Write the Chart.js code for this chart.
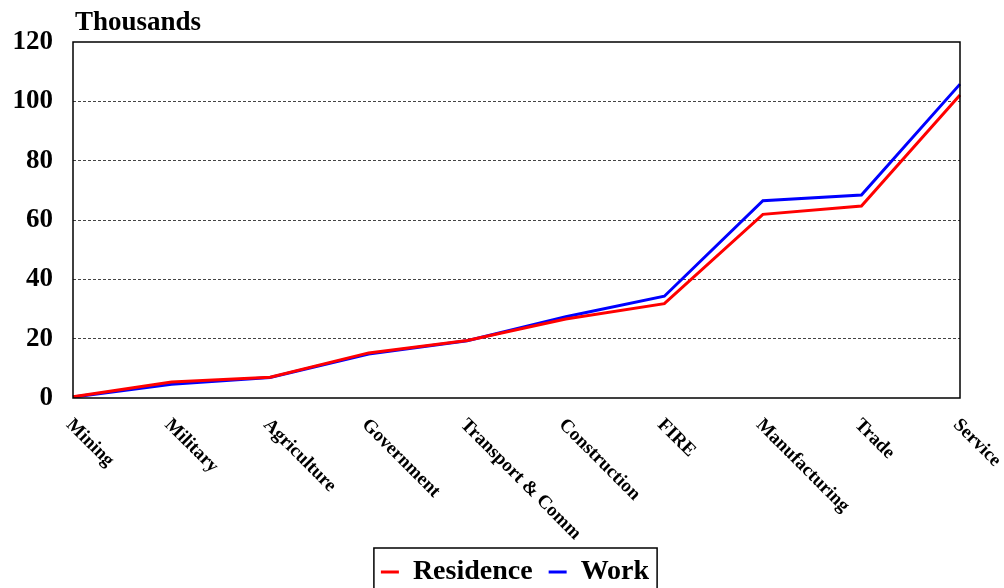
<!DOCTYPE html>
<html lang="en">
<head>
    <meta charset="UTF-8">
    <title>Residence vs Work by Industry</title>
    <script src="https://cdn.jsdelivr.net/npm/chart.js"></script>
    <style>
        html, body {
            margin: 0;
            padding: 0;
            background: #ffffff;
        }

        .chart-container {
            width: 1004px;
            height: 588px;
        }
    </style>
</head>
<body>
    <div class="chart-container">
        <canvas id="industryChart"></canvas>
    </div>

    <script>
        // Categories along the x axis
        const industries = ['Mining', 'Military', 'Agriculture', 'Government', 'Transport & Comm',
            'Construction', 'FIRE', 'Manufacturing', 'Trade', 'Service'];

        // Values in thousands
        const residence = [0.4, 5.4, 7.0, 15.2, 19.4, 26.6, 31.8, 61.9, 64.7, 102.1];
        const work = [0.3, 4.6, 6.9, 14.8, 19.3, 27.4, 34.3, 66.5, 68.4, 105.8];

        const yTicks = [0, 20, 40, 60, 80, 100, 120];

        const SERIF = '"Liberation Serif", "Times New Roman", serif';

        // draws the rotated category names, the frame, the unit label and the legend box
        const decorations = {
            id: 'decorations',
            afterLayout(chart) {
                // legend sits under the plot area rather than the whole canvas
                const lg = chart.legend;
                lg.left += 35;
                lg.right += 35;
                lg.top += 8;
                lg.bottom += 8;
            },
            afterDraw(chart) {
                const ctx = chart.ctx;
                const area = chart.chartArea;
                const xScale = chart.scales.x;

                ctx.save();
                ctx.setLineDash([]);
                ctx.strokeStyle = '#000000';
                ctx.lineWidth = 1.5;
                ctx.strokeRect(area.left, area.top, area.right - area.left, area.bottom - area.top);

                ctx.fillStyle = '#000000';
                ctx.font = 'bold 27px ' + SERIF;
                ctx.textAlign = 'left';
                ctx.textBaseline = 'alphabetic';
                ctx.fillText('Thousands', 75, 30);

                ctx.font = 'bold 19px ' + SERIF;
                ctx.textBaseline = 'middle';
                industries.forEach((name, i) => {
                    const x = xScale.getPixelForTick(i);
                    ctx.save();
                    ctx.translate(x - 4, area.bottom + 24);
                    ctx.rotate(Math.PI / 4);
                    ctx.fillText(name, 0, 0);
                    ctx.restore();
                });

                const boxes = chart.legend.legendHitBoxes;
                if (boxes && boxes.length) {
                    const first = boxes[0];
                    const last = boxes[boxes.length - 1];
                    const left = first.left - 7;
                    const right = last.left + last.width + 8;
                    const top = first.top - 10;
                    ctx.lineWidth = 1.5;
                    ctx.strokeRect(left, top, right - left, chart.height - top + 10);
                }
                ctx.restore();
            }
        };

        const ctx = document.getElementById('industryChart').getContext('2d');
        new Chart(ctx, {
            type: 'line',
            data: {
                labels: industries,
                datasets: [{
                    label: 'Residence',
                    data: residence,
                    borderColor: '#ff0000',
                    backgroundColor: '#ff0000',
                    borderWidth: 3,
                    pointRadius: 0,
                    tension: 0
                }, {
                    label: 'Work',
                    data: work,
                    borderColor: '#0000ff',
                    backgroundColor: '#0000ff',
                    borderWidth: 3,
                    pointRadius: 0,
                    tension: 0
                }]
            },
            options: {
                responsive: true,
                maintainAspectRatio: false,
                animation: false,
                layout: {
                    padding: { top: 42, right: 44, left: 0, bottom: 0 }
                },
                plugins: {
                    legend: {
                        display: true,
                        position: 'bottom',
                        labels: {
                            usePointStyle: true,
                            pointStyle: 'line',
                            pointStyleWidth: 18,
                            color: '#000000',
                            padding: 16,
                            font: { family: SERIF, size: 28, weight: 'bold' }
                        }
                    },
                    tooltip: { enabled: false }
                },
                scales: {
                    x: {
                        offset: false,
                        grid: { display: false },
                        border: { display: false },
                        ticks: { display: false },
                        afterFit(scale) {
                            scale.height = 136;
                        }
                    },
                    y: {
                        min: 0,
                        max: 120,
                        afterBuildTicks(scale) {
                            scale.ticks = yTicks.map(v => ({ value: v }));
                        },
                        afterFit(scale) {
                            scale.width = 73;
                        },
                        grid: {
                            drawTicks: false,
                            color: c => (c.tick.value === 0 || c.tick.value === 120) ? 'rgba(0,0,0,0)' : '#444444',
                            lineWidth: 1
                        },
                        border: { display: false, dash: [3, 2] },
                        ticks: {
                            color: '#000000',
                            padding: 20,
                            font: { family: SERIF, size: 27, weight: 'bold' }
                        }
                    }
                }
            },
            plugins: [decorations]
        });
    </script>
</body>
</html>
